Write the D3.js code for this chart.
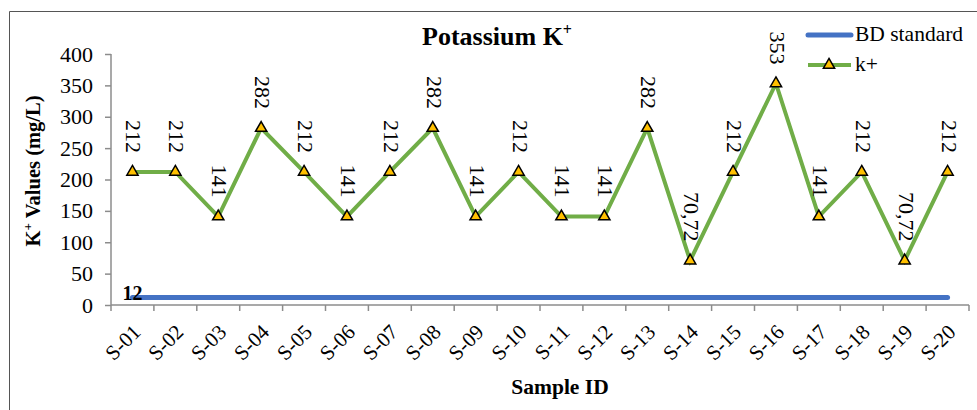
<!DOCTYPE html>
<html>
<head>
<meta charset="utf-8">
<script src="https://cdn.jsdelivr.net/npm/d3@7"></script>
<style>
  html, body { margin: 0; padding: 0; background: #fff; }
  text { font-family: "Liberation Serif", "Times New Roman", serif; }
</style>
</head>
<body>
<svg id="chart" width="977" height="410"></svg>
<script>
const categories = ["S-01","S-02","S-03","S-04","S-05","S-06","S-07","S-08","S-09","S-10",
                    "S-11","S-12","S-13","S-14","S-15","S-16","S-17","S-18","S-19","S-20"];
const kValues = [212,212,141,282,212,141,212,282,141,212,141,141,282,70.72,212,353,141,212,70.72,212];
const bdStandard = [12,12,12,12,12,12,12,12,12,12,12,12,12,12,12,12,12,12,12,12];
const yTicks = [0,50,100,150,200,250,300,350,400];
const seriesNames = ["BD standard", "k+"];

const svg = d3.select("#chart");
const W = 977, H = 410;
const margin = {left: 111};
const plotRight = 969, plotBottom = 305, plotTop = 54;

const blue = "#4472C4", green = "#70AD47", marker = "#FFC000", axisColor = "#8c8c8c";

// outer border (top and left visible)
svg.append("line").attr("x1", 9.5).attr("x2", W).attr("y1", 11.5).attr("y2", 11.5)
  .attr("stroke", "#555").attr("stroke-width", 1);
svg.append("line").attr("x1", 9.5).attr("x2", 9.5).attr("y1", 11.5).attr("y2", H)
  .attr("stroke", "#555").attr("stroke-width", 1);

const x = d3.scaleBand().domain(categories).range([margin.left, plotRight]);
const y = d3.scaleLinear().domain([0, 400]).range([plotBottom, plotTop]);
const cx = d => x(d) + x.bandwidth() / 2;

// Y axis
const yAxis = svg.append("g").attr("transform", `translate(${margin.left},0)`)
  .call(d3.axisLeft(y).tickValues(yTicks).tickSize(6).tickPadding(12));
yAxis.select(".domain").attr("stroke", axisColor).attr("stroke-width", 1.5)
  .attr("d", `M0,${plotTop}V${plotBottom}`);
yAxis.selectAll(".tick line").attr("stroke", axisColor).attr("stroke-width", 1.5);
yAxis.selectAll(".tick text").attr("font-size", 22).attr("fill", "#000")
  .attr("font-family", "Liberation Serif");

// X axis
const xAxis = svg.append("g").attr("transform", `translate(0,${plotBottom})`)
  .call(d3.axisBottom(x).tickSize(0).tickFormat(""));
xAxis.select(".domain").attr("stroke", axisColor).attr("stroke-width", 1.5)
  .attr("d", `M${margin.left},0H${plotRight}`);
const tickPositions = categories.map(c => x(c)).concat([plotRight]);
svg.append("g").selectAll("line").data(tickPositions).join("line")
  .attr("x1", d => d).attr("x2", d => d)
  .attr("y1", plotBottom).attr("y2", plotBottom + 6)
  .attr("stroke", axisColor).attr("stroke-width", 1.5);
svg.append("g").selectAll("text").data(categories).join("text")
  .attr("transform", d => `translate(${cx(d) + 6},${plotBottom + 25}) rotate(-45)`)
  .attr("text-anchor", "end").attr("dominant-baseline", "middle")
  .attr("font-size", 21).attr("fill", "#000")
  .text(d => d);

// BD standard line
const line = d3.line().x((d, i) => cx(categories[i])).y(d => y(d));
svg.append("path").datum(bdStandard).attr("d", line)
  .attr("fill", "none").attr("stroke", blue).attr("stroke-width", 5)
  .attr("stroke-linecap", "round");

// k+ line
svg.append("path").datum(kValues).attr("d", line)
  .attr("fill", "none").attr("stroke", green).attr("stroke-width", 4)
  .attr("stroke-linejoin", "miter");

// markers
const tri = d3.symbol().type(d3.symbolTriangle).size(55);
svg.append("g").selectAll("path").data(kValues).join("path")
  .attr("d", tri)
  .attr("transform", (d, i) => `translate(${cx(categories[i])},${y(d)})`)
  .attr("fill", marker).attr("stroke", "#000").attr("stroke-width", 1.5);

// data labels (rotated 90)
const fmt = v => Number.isInteger(v) ? String(v) : String(v).replace(".", ",");
svg.append("g").selectAll("text").data(kValues).join("text")
  .attr("transform", (d, i) => `translate(${cx(categories[i]) - 1},${y(d) - 19}) rotate(90)`)
  .attr("text-anchor", "end").attr("dominant-baseline", "middle")
  .attr("font-size", 22).attr("fill", "#000")
  .text(d => fmt(d));

// BD standard label
svg.append("text")
  .attr("x", cx(categories[0])).attr("y", y(bdStandard[0]) - 2)
  .attr("text-anchor", "middle").attr("dominant-baseline", "middle")
  .attr("font-size", 20).attr("font-weight", "bold").attr("fill", "#000")
  .text(bdStandard[0]);

// Title
const title = svg.append("text").attr("x", 497).attr("y", 45)
  .attr("text-anchor", "middle").attr("font-size", 26).attr("font-weight", "bold");
title.append("tspan").text("Potassium K");
title.append("tspan").attr("font-size", 16).attr("dy", -10).text("+");

// Y axis title
const yt = svg.append("text")
  .attr("transform", `translate(40,171) rotate(-90)`)
  .attr("text-anchor", "middle").attr("font-size", 20.5).attr("font-weight", "bold");
yt.append("tspan").text("K");
yt.append("tspan").attr("font-size", 13).attr("dy", -8).text("+");
yt.append("tspan").attr("dy", 8).text(" Values (mg/L)");

// X axis title
svg.append("text").attr("x", 560).attr("y", 394)
  .attr("text-anchor", "middle").attr("font-size", 21.5).attr("font-weight", "bold")
  .text("Sample ID");

// Legend
const lg = svg.append("g");
lg.append("line").attr("x1", 808).attr("x2", 851).attr("y1", 35).attr("y2", 35)
  .attr("stroke", blue).attr("stroke-width", 5).attr("stroke-linecap", "round");
lg.append("text").attr("x", 855).attr("y", 36).attr("dominant-baseline", "middle")
  .attr("font-size", 21.5).text(seriesNames[0]);
lg.append("line").attr("x1", 808).attr("x2", 851).attr("y1", 65).attr("y2", 65)
  .attr("stroke", green).attr("stroke-width", 4);
lg.append("path").attr("d", tri).attr("transform", "translate(829,65)")
  .attr("fill", marker).attr("stroke", "#000").attr("stroke-width", 1.5);
lg.append("text").attr("x", 855).attr("y", 66).attr("dominant-baseline", "middle")
  .attr("font-size", 21.5).text(seriesNames[1]);
</script>
</body>
</html>
